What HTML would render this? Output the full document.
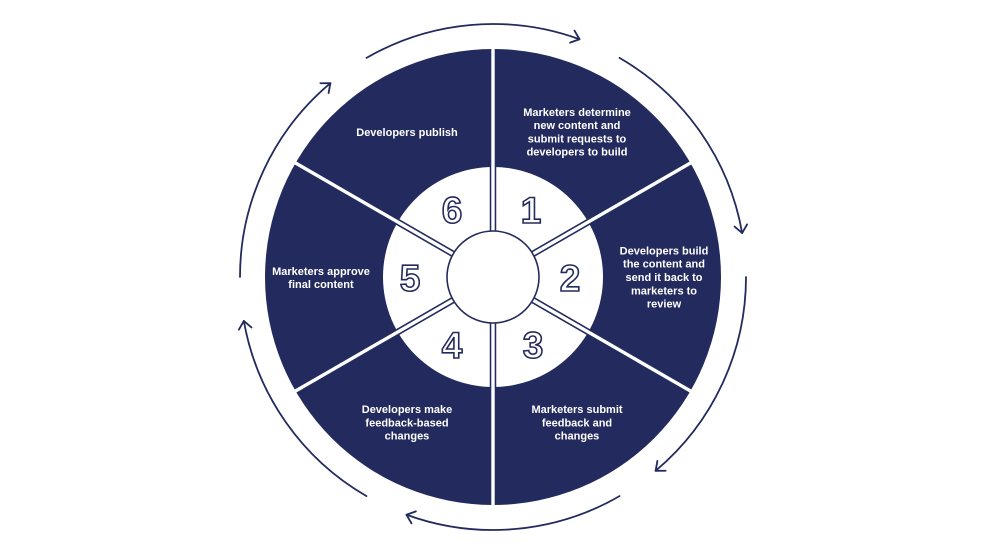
<!DOCTYPE html>
<html>
<head>
<meta charset="utf-8">
<style>
  html, body { margin: 0; padding: 0; background: #ffffff; }
  body { width: 986px; height: 555px; overflow: hidden; }
  svg { display: block; }
  .lbl { font-family: "Liberation Sans", sans-serif; font-weight: bold; font-size: 11px; fill: #ffffff; text-anchor: middle; }
  .num { font-family: "Liberation Sans", sans-serif; font-weight: bold; font-size: 37px; fill: #ffffff; stroke: #232B5E; stroke-width: 1.6; text-anchor: middle; }
</style>
</head>
<body>
<svg width="986" height="555" viewBox="0 0 986 555" xmlns="http://www.w3.org/2000/svg">
  <rect width="986" height="555" fill="#ffffff"/>

  <!-- outer arrows -->
  <g fill="none" stroke="#232B5E" stroke-width="1.8" stroke-linecap="round" stroke-linejoin="round">
    <g transform="rotate(-5 493 277)">
      <path d="M386.08,47.70 A253,253 0 0 1 599.92,47.70"/>
      <g transform="rotate(25 493 277)"><polyline points="485.3,17.6 493,24 485.3,30.4"/></g>
    </g>
    <g transform="rotate(55 493 277)">
      <path d="M386.08,47.70 A253,253 0 0 1 599.92,47.70"/>
      <g transform="rotate(25 493 277)"><polyline points="485.3,17.6 493,24 485.3,30.4"/></g>
    </g>
    <g transform="rotate(115 493 277)">
      <path d="M386.08,47.70 A253,253 0 0 1 599.92,47.70"/>
      <g transform="rotate(25 493 277)"><polyline points="485.3,17.6 493,24 485.3,30.4"/></g>
    </g>
    <g transform="rotate(175 493 277)">
      <path d="M386.08,47.70 A253,253 0 0 1 599.92,47.70"/>
      <g transform="rotate(25 493 277)"><polyline points="485.3,17.6 493,24 485.3,30.4"/></g>
    </g>
    <g transform="rotate(235 493 277)">
      <path d="M386.08,47.70 A253,253 0 0 1 599.92,47.70"/>
      <g transform="rotate(25 493 277)"><polyline points="485.3,17.6 493,24 485.3,30.4"/></g>
    </g>
    <g transform="rotate(295 493 277)">
      <path d="M386.08,47.70 A253,253 0 0 1 599.92,47.70"/>
      <g transform="rotate(25 493 277)"><polyline points="485.3,17.6 493,24 485.3,30.4"/></g>
    </g>
  </g>

  <!-- main disc -->
  <circle cx="493" cy="277" r="228" fill="#232B5E"/>
  <!-- white ring -->
  <circle cx="493" cy="277" r="110" fill="#ffffff"/>

  <!-- dividers -->
  <g>
    <g stroke="#232B5E" stroke-width="6.5">
      <line x1="493" y1="231" x2="493" y2="166"/>
      <line x1="493" y1="231" x2="493" y2="166" transform="rotate(60 493 277)"/>
      <line x1="493" y1="231" x2="493" y2="166" transform="rotate(120 493 277)"/>
      <line x1="493" y1="231" x2="493" y2="166" transform="rotate(180 493 277)"/>
      <line x1="493" y1="231" x2="493" y2="166" transform="rotate(240 493 277)"/>
      <line x1="493" y1="231" x2="493" y2="166" transform="rotate(300 493 277)"/>
    </g>
    <g stroke="#ffffff" stroke-width="3.4">
      <line x1="493" y1="231" x2="493" y2="46"/>
      <line x1="493" y1="231" x2="493" y2="46" transform="rotate(60 493 277)"/>
      <line x1="493" y1="231" x2="493" y2="46" transform="rotate(120 493 277)"/>
      <line x1="493" y1="231" x2="493" y2="46" transform="rotate(180 493 277)"/>
      <line x1="493" y1="231" x2="493" y2="46" transform="rotate(240 493 277)"/>
      <line x1="493" y1="231" x2="493" y2="46" transform="rotate(300 493 277)"/>
    </g>
  </g>

  <!-- inner circle -->
  <circle cx="493" cy="277" r="46" fill="#ffffff" stroke="#232B5E" stroke-width="1.6"/>

  <!-- numbers -->
  <text class="num" x="452" y="223">6</text>
  <text class="num" x="531" y="223">1</text>
  <text class="num" x="570" y="291">2</text>
  <text class="num" x="533" y="358">3</text>
  <text class="num" x="452" y="358">4</text>
  <text class="num" x="410" y="291">5</text>

  <!-- labels -->
  <text class="lbl" x="407" y="136">Developers publish</text>

  <text class="lbl" x="577" y="116">Marketers determine</text>
  <text class="lbl" x="577" y="129.2">new content and</text>
  <text class="lbl" x="577" y="142.4">submit requests to</text>
  <text class="lbl" x="577" y="155.6">developers to build</text>

  <text class="lbl" x="664" y="254.3">Developers build</text>
  <text class="lbl" x="664" y="267.6">the content and</text>
  <text class="lbl" x="664" y="281">send it back to</text>
  <text class="lbl" x="664" y="294.3">marketers to</text>
  <text class="lbl" x="664" y="307.7">review</text>

  <text class="lbl" x="321" y="275">Marketers approve</text>
  <text class="lbl" x="321" y="288">final content</text>

  <text class="lbl" x="407" y="413">Developers make</text>
  <text class="lbl" x="407" y="426.3">feedback-based</text>
  <text class="lbl" x="407" y="439.6">changes</text>

  <text class="lbl" x="577" y="413">Marketers submit</text>
  <text class="lbl" x="577" y="426.3">feedback and</text>
  <text class="lbl" x="577" y="439.6">changes</text>
</svg>
</body>
</html>
